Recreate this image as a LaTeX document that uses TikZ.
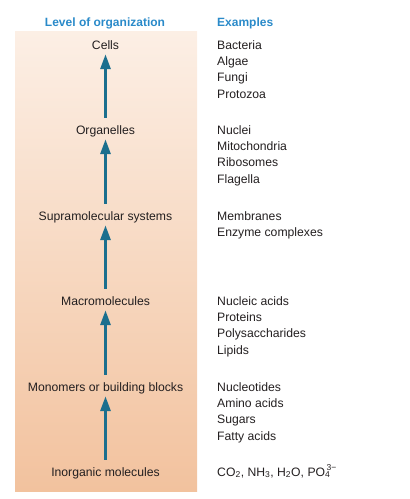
\documentclass[tikz,border=0pt]{standalone}
\usepackage{fontspec}
\setmainfont{Liberation Sans}
\usetikzlibrary{arrows.meta}
\definecolor{headblue}{RGB}{42,138,201}
\definecolor{arrteal}{RGB}{27,111,142}
\definecolor{txt}{RGB}{35,31,32}
\definecolor{bgtop}{RGB}{252,239,229}
\definecolor{bgbot}{RGB}{242,194,158}
\tikzset{
  heading/.style={font=\fontsize{12}{14}\selectfont\bfseries, text=headblue, inner sep=0pt},
  level/.style={font=\fontsize{12.2}{14}\selectfont, text=txt, text height=9pt, text depth=3pt, inner xsep=0pt, inner ysep=2pt},
  example/.style={font=\fontsize{12.2}{14}\selectfont, text=txt, anchor=west, inner sep=0pt, text height=9pt, text depth=3pt},
  uparrow/.style={draw=arrteal, line width=3pt, -{Triangle[width=10pt,length=15pt]}, shorten <=5pt}
}
\begin{document}
\begin{tikzpicture}[x=1pt,y=-1pt]
\useasboundingbox (0,0) rectangle (410,499);
\shade[top color=bgtop, bottom color=bgbot] (15,31) rectangle (197,491);
\node[heading] (h1) at (105,23) {Level of organization};
\node[heading, anchor=west] (h2) at (217,23) {Examples};

\node[level] (cells) at (105.5,46) {Cells};
\node[level] (org) at (105.5,131) {Organelles};
\node[level] (supra) at (105.5,217) {Supramolecular systems};
\node[level] (macro) at (105.5,302) {Macromolecules};
\node[level] (mono) at (105.5,388) {Monomers or building blocks};
\node[level] (inorg) at (105.5,473) {Inorganic molecules};

\draw[uparrow] (org.north) -- (cells.south);
\draw[uparrow] (supra.north) -- (org.south);
\draw[uparrow] (macro.north) -- (supra.south);
\draw[uparrow] (mono.north) -- (macro.south);
\draw[uparrow] (inorg.north) -- (mono.south);

\node[example] (e1) at (217,46) {Bacteria};
\node[example] (e2) at (217,62.4) {Algae};
\node[example] (e3) at (217,78.8) {Fungi};
\node[example] (e4) at (217,95.2) {Protozoa};

\node[example] (e5) at (217,131) {Nuclei};
\node[example] (e6) at (217,147.4) {Mitochondria};
\node[example] (e7) at (217,163.8) {Ribosomes};
\node[example] (e8) at (217,180.2) {Flagella};

\node[example] (e9) at (217,217) {Membranes};
\node[example] (e10) at (217,233.4) {Enzyme complexes};

\node[example] (e11) at (217,302) {Nucleic acids};
\node[example] (e12) at (217,318.4) {Proteins};
\node[example] (e13) at (217,334.8) {Polysaccharides};
\node[example] (e14) at (217,351.2) {Lipids};

\node[example] (e15) at (217,388) {Nucleotides};
\node[example] (e16) at (217,404.4) {Amino acids};
\node[example] (e17) at (217,420.8) {Sugars};
\node[example] (e18) at (217,437.2) {Fatty acids};

\node[example] (e19) at (217,473) {CO\textsubscript{2}, NH\textsubscript{3}, H\textsubscript{2}O, PO\rlap{\raisebox{1pt}{\textsuperscript{\,3−}}}\textsubscript{4}};
\end{tikzpicture}
\end{document}
